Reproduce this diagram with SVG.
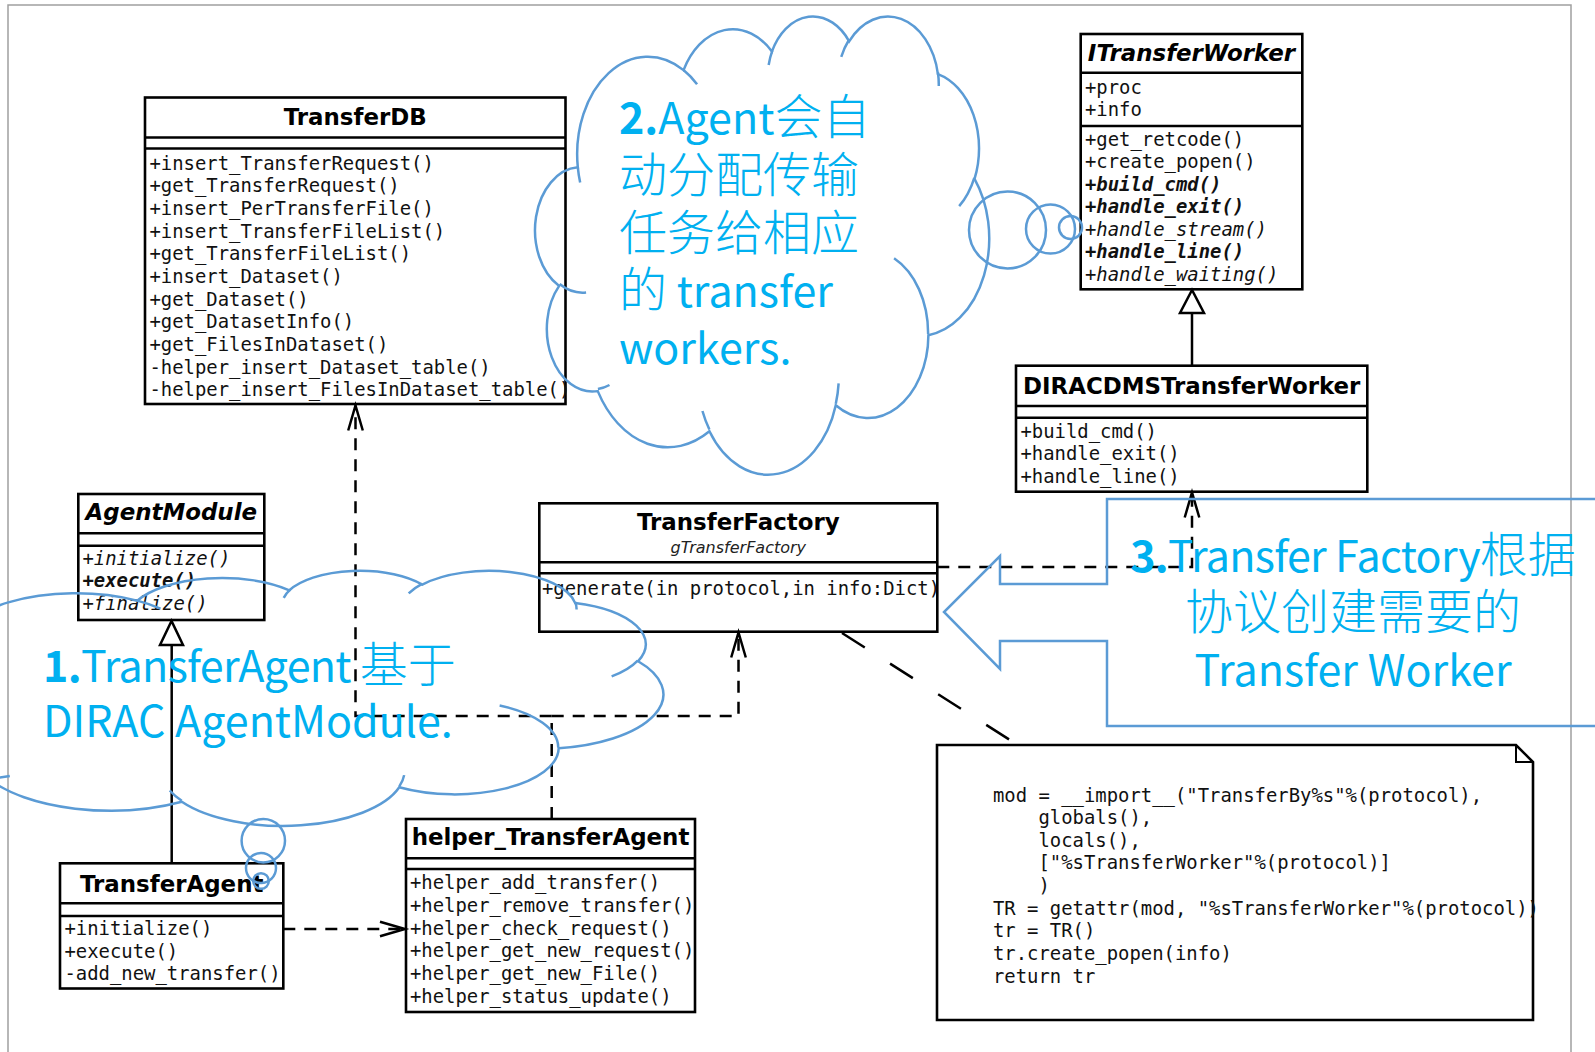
<svg xmlns="http://www.w3.org/2000/svg" width="1595" height="1052" viewBox="0 0 1595 1052">
<defs>
<style>
.box{fill:#fff;stroke:#000;stroke-width:2.6}
.div{stroke:#000;stroke-width:2.6}
.title{font-family:"DejaVu Sans",sans-serif;font-weight:bold;font-size:22.9px;text-anchor:middle;fill:#000}
.sub{font-family:"DejaVu Sans",sans-serif;font-style:italic;font-size:16px;text-anchor:middle;fill:#222}
.m{font-family:"DejaVu Sans Mono",monospace;font-size:18.9px;fill:#111}
.bi{font-weight:bold;font-style:italic}
.i{font-style:italic}
.edge{fill:none;stroke:#000;stroke-width:2.5}
.dash{stroke-dasharray:12 9}
.ldash{stroke-dasharray:27 30}
.tri{fill:#fff;stroke:#000;stroke-width:2.5}
.cloud{fill:none;stroke:#5b9bd5;stroke-width:2.5}
.bubble{fill:none;stroke:#5b9bd5;stroke-width:2.5}
.call{font-family:"Noto Sans CJK SC",sans-serif;font-size:43px;fill:#00b0f0}
.tight{letter-spacing:-0.7px}
.b{font-weight:bold}
.c{font-weight:300;font-size:48px;letter-spacing:0}
.frame{fill:none;stroke:#a0a0a0;stroke-width:1.5}
</style>
<marker id="open" viewBox="-28 -10 30 20" markerWidth="30" markerHeight="20" refX="0" refY="0" orient="auto" markerUnits="userSpaceOnUse" overflow="visible">
<path d="M-25 -7.3L0 0L-25 7.3" fill="none" stroke="#000" stroke-width="2.5"/>
</marker>
</defs>

<rect width="1595" height="1052" fill="#fff"/>
<path class="frame" d="M8 1052V5H1571V1052"/>

<!-- class boxes -->
<g id="TransferDB">
<rect class="box" x="145" y="97.5" width="420.5" height="306.5"/>
<line class="div" x1="145" y1="137.5" x2="565.5" y2="137.5"/>
<line class="div" x1="145" y1="148.5" x2="565.5" y2="148.5"/>
<text class="title" x="355.2" y="124.5">TransferDB</text>
<text class="m" x="149.5" y="169.5">+insert_TransferRequest()</text>
<text class="m" x="149.5" y="192.2">+get_TransferRequest()</text>
<text class="m" x="149.5" y="214.8">+insert_PerTransferFile()</text>
<text class="m" x="149.5" y="237.5">+insert_TransferFileList()</text>
<text class="m" x="149.5" y="260.2">+get_TransferFileList()</text>
<text class="m" x="149.5" y="282.8">+insert_Dataset()</text>
<text class="m" x="149.5" y="305.5">+get_Dataset()</text>
<text class="m" x="149.5" y="328.2">+get_DatasetInfo()</text>
<text class="m" x="149.5" y="350.8">+get_FilesInDataset()</text>
<text class="m" x="149.5" y="373.5">-helper_insert_Dataset_table()</text>
<text class="m" x="149.5" y="396.2">-helper_insert_FilesInDataset_table()</text>
</g>

<g id="ITransferWorker">
<rect class="box" x="1080.7" y="34" width="221.6" height="255.3"/>
<line class="div" x1="1080.7" y1="72.7" x2="1302.3" y2="72.7"/>
<line class="div" x1="1080.7" y1="126" x2="1302.3" y2="126"/>
<text class="title" font-style="italic" x="1191.5" y="61">ITransferWorker</text>
<text class="m" x="1085" y="93.5">+proc</text>
<text class="m" x="1085" y="116">+info</text>
<text class="m" x="1085" y="145.5">+get_retcode()</text>
<text class="m" x="1085" y="168">+create_popen()</text>
<text class="m bi" x="1085" y="190.6">+build_cmd()</text>
<text class="m bi" x="1085" y="213.2">+handle_exit()</text>
<text class="m i" x="1085" y="235.8">+handle_stream()</text>
<text class="m bi" x="1085" y="258.4">+handle_line()</text>
<text class="m i" x="1085" y="281">+handle_waiting()</text>
</g>

<g id="DIRACDMSTransferWorker">
<rect class="box" x="1016" y="365.7" width="351.3" height="126"/>
<line class="div" x1="1016" y1="406" x2="1367.3" y2="406"/>
<line class="div" x1="1016" y1="417.7" x2="1367.3" y2="417.7"/>
<text class="title" x="1191.7" y="393.5">DIRACDMSTransferWorker</text>
<text class="m" x="1020.5" y="437.5">+build_cmd()</text>
<text class="m" x="1020.5" y="460">+handle_exit()</text>
<text class="m" x="1020.5" y="482.6">+handle_line()</text>
</g>

<g id="AgentModule">
<rect class="box" x="78.3" y="494" width="186" height="126"/>
<line class="div" x1="78.3" y1="533.3" x2="264.3" y2="533.3"/>
<line class="div" x1="78.3" y1="545.7" x2="264.3" y2="545.7"/>
<text class="title" font-style="italic" x="171.3" y="519.5">AgentModule</text>
<text class="m i" x="82.5" y="564.5">+initialize()</text>
<text class="m bi" x="82.5" y="587.2">+execute()</text>
<text class="m i" x="82.5" y="609.8">+finalize()</text>
</g>

<g id="TransferFactory">
<rect class="box" x="539.3" y="503.3" width="398" height="128.4"/>
<line class="div" x1="539.3" y1="562.3" x2="937.3" y2="562.3"/>
<line class="div" x1="539.3" y1="573.3" x2="937.3" y2="573.3"/>
<text class="title" x="738.3" y="529.5">TransferFactory</text>
<text class="sub" x="738.3" y="552.7">gTransferFactory</text>
<text class="m" x="542" y="595">+generate(in protocol,in info:Dict)</text>
</g>

<g id="TransferAgent">
<rect class="box" x="60" y="863.3" width="223.3" height="125.2"/>
<line class="div" x1="60" y1="903.3" x2="283.3" y2="903.3"/>
<line class="div" x1="60" y1="916" x2="283.3" y2="916"/>
<text class="title" x="171.7" y="891.7">TransferAgent</text>
<text class="m" x="64.5" y="935">+initialize()</text>
<text class="m" x="64.5" y="957.7">+execute()</text>
<text class="m" x="64.5" y="980.3">-add_new_transfer()</text>
</g>

<g id="helper_TransferAgent">
<rect class="box" x="406" y="819" width="289" height="193"/>
<line class="div" x1="406" y1="858.3" x2="695" y2="858.3"/>
<line class="div" x1="406" y1="869" x2="695" y2="869"/>
<text class="title" x="550.5" y="845">helper_TransferAgent</text>
<text class="m" x="410" y="889.3">+helper_add_transfer()</text>
<text class="m" x="410" y="912">+helper_remove_transfer()</text>
<text class="m" x="410" y="934.6">+helper_check_request()</text>
<text class="m" x="410" y="957.3">+helper_get_new_request()</text>
<text class="m" x="410" y="980">+helper_get_new_File()</text>
<text class="m" x="410" y="1002.7">+helper_status_update()</text>
</g>

<g id="generate_note">
<path class="box" d="M937 745H1516L1533 762V1020H937Z"/>
<path fill="none" stroke="#000" stroke-width="2" d="M1516 745V762H1533"/>
<text class="m" x="993" y="801.7">mod = __import__("TransferBy%s"%(protocol),</text>
<text class="m" x="1038.4" y="824.2">globals(),</text>
<text class="m" x="1038.4" y="846.7">locals(),</text>
<text class="m" x="1038.4" y="869.2">["%sTransferWorker"%(protocol)]</text>
<text class="m" x="1038.4" y="891.7">)</text>
<text class="m" x="993" y="914.8">TR = getattr(mod, "%sTransferWorker"%(protocol))</text>
<text class="m" x="993" y="937.3">tr = TR()</text>
<text class="m" x="993" y="960">tr.create_popen(info)</text>
<text class="m" x="993" y="982.6">return tr</text>
</g>

<!-- relations -->
<g id="connectors">
<path class="edge" d="M171.7 863.3V645"/>
<polygon class="tri" points="171.5,621 160,645 183,645"/>
<path class="edge" d="M1192 365.7V313"/>
<polygon class="tri" points="1192,290 1180,313 1204,313"/>
<path class="edge dash" d="M283.3 929H405" marker-end="url(#open)"/>
<path class="edge dash" d="M551.7 819V716"/>
<path class="edge dash" d="M551.7 716H355.5V405.5" marker-end="url(#open)"/>
<path class="edge dash" d="M551.7 716H738.5V632.5" marker-end="url(#open)"/>
<path class="edge dash" d="M937.3 567H1192V492.5" marker-end="url(#open)"/>
<path class="edge ldash" d="M842 633L1010 740"/>
</g>

<!-- callout 1: cloud with bubbles towards TransferAgent -->
<g id="callout1">
<g transform="translate(-115 570) scale(0.778 0.255)">
<path class="cloud" vector-effect="non-scaling-stroke" d="M90.3 332.6A156.3 212.7 0 0 1 324.2 120.4A123.4 168.2 0 0 1 519.8 79.5A101 137.6 0 0 1 690.6 57.4A112.4 152.7 0 0 1 887 129A123.4 168.4 0 0 1 968 357.8A156.8 213.4 0 0 1 865.9 699.2A133.9 182.1 0 0 1 661 852.2A156.3 213.3 0 0 1 381.5 909A178.7 244.1 0 0 1 134.4 821.2A100.9 137 0 0 1 49 591.5A100.6 137.6 0 0 1 90.3 332.6Z"/>
<path class="cloud" vector-effect="non-scaling-stroke" d="M108.6 605.9A100.6 137.6 0 0 1 50 587.5M160.4 807.9A100.9 137 0 0 1 134.7 816.7M381.4 904.9A156.3 213.3 0 0 1 366 864.6M667.3 804.4A156.3 213.3 0 0 1 661.1 848.6M790 531.3A133.9 182.1 0 0 1 865.3 696.5M967.5 355.4A123.4 168.4 0 0 1 934 417.4M887.1 125.6A112.4 152.7 0 0 1 888.9 154.9M673.1 91.5A112.4 152.7 0 0 1 690.3 54.1M512.5 109.3A101 137.6 0 0 1 520.8 77.1M324.1 120.2A156.3 212.7 0 0 1 354.1 151.4M95.5 365.5A156.3 212.7 0 0 1 90.3 332.7"/>
</g>
<circle class="bubble" cx="263.3" cy="840.7" r="21.7"/>
<circle class="bubble" cx="261" cy="868" r="15"/>
<circle class="bubble" cx="261" cy="881" r="7.8"/>
<text class="call tight" x="43" y="682"><tspan class="b">1.</tspan>TransferAgent <tspan class="c">基于</tspan></text>
<text class="call" x="43" y="737">DIRAC AgentModule.</text>
</g>

<!-- callout 2: cloud with bubbles towards ITransferWorker -->
<g id="callout2">
<g transform="translate(537 15) scale(0.452 0.458)">
<path class="cloud" vector-effect="non-scaling-stroke" d="M90.3 332.6A156.3 212.7 0 0 1 324.2 120.4A123.4 168.2 0 0 1 519.8 79.5A101 137.6 0 0 1 690.6 57.4A112.4 152.7 0 0 1 887 129A123.4 168.4 0 0 1 968 357.8A156.8 213.4 0 0 1 865.9 699.2A133.9 182.1 0 0 1 661 852.2A156.3 213.3 0 0 1 381.5 909A178.7 244.1 0 0 1 134.4 821.2A100.9 137 0 0 1 49 591.5A100.6 137.6 0 0 1 90.3 332.6Z"/>
<path class="cloud" vector-effect="non-scaling-stroke" d="M108.6 605.9A100.6 137.6 0 0 1 50 587.5M160.4 807.9A100.9 137 0 0 1 134.7 816.7M381.4 904.9A156.3 213.3 0 0 1 366 864.6M667.3 804.4A156.3 213.3 0 0 1 661.1 848.6M790 531.3A133.9 182.1 0 0 1 865.3 696.5M967.5 355.4A123.4 168.4 0 0 1 934 417.4M887.1 125.6A112.4 152.7 0 0 1 888.9 154.9M673.1 91.5A112.4 152.7 0 0 1 690.3 54.1M512.5 109.3A101 137.6 0 0 1 520.8 77.1M324.1 120.2A156.3 212.7 0 0 1 354.1 151.4M95.5 365.5A156.3 212.7 0 0 1 90.3 332.7"/>
</g>
<circle class="bubble" cx="1007.5" cy="230" r="38.5"/>
<circle class="bubble" cx="1050.5" cy="229" r="24.5"/>
<circle class="bubble" cx="1070.5" cy="227.5" r="11.5"/>
<text class="call" x="619" y="134"><tspan class="b">2.</tspan>Agent<tspan class="c">会自</tspan></text>
<text class="call" x="619" y="192"><tspan class="c">动分配传输</tspan></text>
<text class="call" x="619" y="250"><tspan class="c">任务给相应</tspan></text>
<text class="call" x="619" y="307"><tspan class="c">的</tspan> transfer</text>
<text class="call" x="619" y="364">workers.</text>
</g>

<!-- callout 3: left arrow callout pointing at TransferFactory -->
<g id="callout3">
<path class="cloud" d="M1595 499H1107V584H1000V556L944 612L1000 669V641H1107V726H1595"/>
<text class="call tight" text-anchor="middle" x="1353" y="572"><tspan class="b">3.</tspan>Transfer Factory<tspan class="c">根据</tspan></text>
<text class="call" text-anchor="middle" x="1353" y="629"><tspan class="c">协议创建需要的</tspan></text>
<text class="call" text-anchor="middle" x="1353" y="686">Transfer Worker</text>
</g>
</svg>
